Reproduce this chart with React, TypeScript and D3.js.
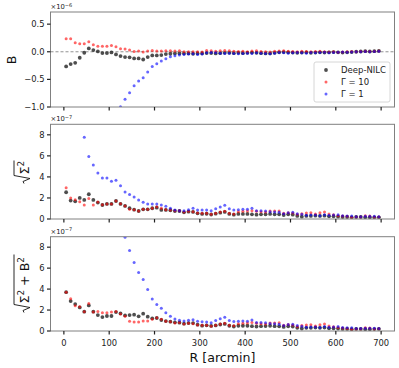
import React from 'react';
import * as d3 from 'd3';

// radial bins (arcmin)
const R = [5, 15, 25, 35, 45, 55, 65, 75, 85, 95, 105, 115, 125, 135, 145, 155, 165, 175, 185, 195,
  205, 215, 225, 235, 245, 255, 265, 275, 285, 295, 305, 315, 325, 335, 345, 355, 365, 375, 385, 395,
  405, 415, 425, 435, 445, 455, 465, 475, 485, 495, 505, 515, 525, 535, 545, 555, 565, 575, 585, 595,
  605, 615, 625, 635, 645, 655, 665, 675, 685, 695];

// B  (x 1e-6)
const bDeep = [-0.265, -0.223, -0.2, -0.108, -0.018, 0.06, 0.03, 0.006, -0.024, -0.024, -0.012, -0.048, -0.078, -0.096, -0.1, -0.12, -0.12, -0.14, -0.096, -0.066,
  -0.066, -0.06, -0.042, -0.036, -0.03, -0.03, -0.03, -0.03, -0.036, -0.03, -0.03, -0.024, -0.024,
  -0.03, -0.025, -0.02, -0.02, -0.025, -0.02, -0.025, -0.02, -0.015, -0.02, -0.025, -0.03, -0.03, -0.02, -0.01, -0.005, -0.01, -0.015, -0.02, -0.015,
  -0.01, -0.02, -0.015, -0.01, -0.015, -0.01, -0.005, -0.01, -0.015, -0.01, -0.005, 0.0, 0.005, 0.01, 0.005, 0.01, 0.015];
const bG10 = [0.235, 0.235, 0.163, 0.145, 0.145, 0.18, 0.127, 0.102, 0.102, 0.102, 0.114, 0.09, 0.054, 0.048, 0.03, 0.006, 0.012, -0.006, 0.012, 0.024,
  0.012, 0.012, 0.018, 0.018, 0.012, 0.018, 0.0, 0.0, 0.0, 0.0, -0.006, 0.024, 0.018,
  0.01, 0.02, 0.025, 0.02, 0.01, 0.005, 0.01, 0.0, 0.015, 0.02, 0.005, 0.0, -0.005, 0.01, 0.015, 0.02, 0.01, 0.005, 0.0, 0.01,
  0.005, 0.0, 0.005, 0.01, 0.0, -0.005, 0.0, -0.01, -0.005, 0.0, 0.005, 0.0, 0.005, 0.01, 0.005, 0.01, 0.015];
const bG1 = [-2.4, -2.2, -2.0, -1.85, -1.7, -1.6, -1.5, -1.4, -1.3, -1.2, -1.12, -1.05, -0.995, -0.86, -0.74, -0.614, -0.53, -0.47, -0.367, -0.265,
  -0.217, -0.169, -0.127, -0.09, -0.072, -0.06, -0.048, -0.042, -0.036, -0.048, -0.042, -0.018, -0.012,
  -0.02, -0.025, -0.03, -0.025, -0.03, -0.035, -0.03, -0.025, -0.03, -0.02, -0.025, -0.03, -0.035, -0.025, -0.015, -0.02, -0.025, -0.02, -0.015, -0.02,
  -0.025, -0.015, -0.02, -0.015, -0.01, -0.02, -0.015, -0.01, -0.005, -0.01, -0.005, 0.0, 0.0, 0.005, 0.0, 0.005, 0.01];

// sqrt(Sigma^2)  (x 1e-7)
const sDeep = [2.54, 1.75, 1.68, 2.0, 1.81, 2.35, 1.81, 1.56, 1.33, 1.43, 1.43, 1.71, 1.43, 1.24, 1.02, 0.89, 0.76, 0.92, 0.92, 1.02,
  1.08, 0.86, 0.86, 0.83, 0.76, 0.76, 0.63, 0.7, 0.67, 0.54, 0.48, 0.5, 0.43,
  0.51, 0.6, 0.67, 0.48, 0.41, 0.48, 0.48, 0.48, 0.44, 0.41, 0.44, 0.44, 0.48, 0.44, 0.44, 0.38, 0.44, 0.41, 0.29, 0.22,
  0.29, 0.29, 0.32, 0.29, 0.32, 0.25, 0.25, 0.22, 0.19, 0.19, 0.16, 0.19, 0.19, 0.16, 0.16, 0.16, 0.16];
const sG10 = [2.98, 2.0, 1.84, 1.65, 1.33, 1.94, 1.33, 1.62, 1.36, 1.43, 1.43, 1.71, 1.46, 1.24, 0.92, 0.89, 0.76, 0.92, 0.92, 1.02,
  1.17, 1.02, 0.89, 0.86, 0.79, 0.79, 0.67, 0.73, 0.7, 0.57, 0.54, 0.54, 0.44,
  0.54, 0.67, 0.73, 0.54, 0.48, 0.7, 0.73, 0.76, 0.79, 0.73, 0.7, 0.67, 0.76, 0.76, 0.76, 0.54, 0.6, 0.57, 0.44, 0.51,
  0.57, 0.6, 0.48, 0.6, 0.67, 0.48, 0.41, 0.32, 0.29, 0.25, 0.16, 0.19, 0.19, 0.32, 0.29, 0.19, 0.19];
const sG1 = [13.0, 11.5, 10.5, 9.6, 7.78, 5.94, 5.14, 4.38, 3.9, 3.9, 3.59, 3.68, 3.17, 2.57, 2.32, 2.1, 1.81, 1.59, 1.43, 1.43,
  1.43, 1.33, 1.2, 1.02, 0.86, 0.79, 0.79, 0.89, 1.02, 0.86, 0.86, 0.86, 0.78,
  0.98, 1.14, 1.3, 0.98, 0.86, 0.89, 0.92, 0.92, 1.02, 0.79, 0.79, 0.76, 0.7, 0.67, 0.63, 0.51, 0.6, 0.63, 0.51, 0.44,
  0.35, 0.38, 0.38, 0.32, 0.41, 0.35, 0.38, 0.41, 0.32, 0.29, 0.29, 0.22, 0.22, 0.25, 0.25, 0.25, 0.22];

// sqrt(Sigma^2 + B^2)  (x 1e-7)
const tDeep = [3.71, 2.86, 2.57, 2.25, 1.84, 2.44, 1.84, 1.52, 1.33, 1.43, 1.43, 1.81, 1.68, 1.49, 1.52, 1.56, 1.4, 1.65, 1.37, 1.21,
  1.24, 1.05, 0.95, 0.89, 0.83, 0.79, 0.7, 0.76, 0.76, 0.6, 0.51, 0.54, 0.48,
  0.53, 0.62, 0.68, 0.5, 0.43, 0.5, 0.5, 0.5, 0.46, 0.43, 0.46, 0.47, 0.5, 0.46, 0.45, 0.39, 0.45, 0.42, 0.3, 0.24,
  0.3, 0.3, 0.33, 0.3, 0.33, 0.26, 0.26, 0.23, 0.2, 0.2, 0.17, 0.2, 0.2, 0.17, 0.17, 0.18, 0.2];
const tG10 = [3.71, 3.08, 2.41, 2.32, 1.84, 2.63, 1.81, 1.87, 1.75, 1.75, 1.81, 1.87, 1.62, 1.4, 0.92, 0.86, 0.86, 0.95, 0.95, 1.11,
  1.27, 1.11, 0.92, 0.89, 0.76, 0.8, 0.67, 0.73, 0.7, 0.57, 0.54, 0.55, 0.46,
  0.55, 0.68, 0.75, 0.56, 0.49, 0.7, 0.73, 0.76, 0.8, 0.75, 0.7, 0.67, 0.76, 0.77, 0.78, 0.56, 0.61, 0.57, 0.44, 0.52,
  0.57, 0.6, 0.48, 0.6, 0.67, 0.48, 0.41, 0.33, 0.29, 0.25, 0.17, 0.19, 0.2, 0.32, 0.29, 0.2, 0.21];
const tG1 = [27, 24, 22, 20, 19, 17.5, 16, 15, 14, 13, 12, 11.1, 10.4, 8.95, 7.68, 6.54, 5.59, 4.92, 3.97, 3.05,
  2.54, 2.16, 1.75, 1.4, 1.14, 1.02, 0.95, 1.02, 1.08, 0.92, 0.89, 0.86, 0.79,
  1.0, 1.16, 1.31, 1.0, 0.9, 0.92, 0.95, 0.94, 1.04, 0.82, 0.81, 0.78, 0.72, 0.69, 0.64, 0.53, 0.61, 0.64, 0.52, 0.45,
  0.36, 0.39, 0.39, 0.33, 0.42, 0.36, 0.39, 0.42, 0.33, 0.3, 0.3, 0.23, 0.23, 0.26, 0.26, 0.26, 0.23];

const xTicks = [0, 100, 200, 300, 400, 500, 600, 700];
const legendLabels = ['Deep-NILC', 'Γ = 10', 'Γ = 1'];

const FONT = 'DejaVu Sans, sans-serif';
const LEFT = 50.5;
const RIGHT = 394.5;

const styles = [
  { fill: '#222', opacity: 0.8, r: 1.9 },
  { fill: 'red', opacity: 0.6, r: 1.5 },
  { fill: 'blue', opacity: 0.6, r: 1.5 },
];

const panels = [
  { id: 'p1', top: 12, bottom: 107, domain: [-1, 0.72], ticks: [-1, -0.5, 0, 0.5], fmt: d3.format('.1f'), exp: '−6', series: [bDeep, bG10, bG1], zero: true },
  { id: 'p2', top: 124.3, bottom: 219, domain: [0, 9], ticks: [0, 2, 4, 6, 8], fmt: d3.format('d'), exp: '−7', series: [sDeep, sG10, sG1], zero: false },
  { id: 'p3', top: 236.7, bottom: 331, domain: [0, 9], ticks: [0, 2, 4, 6, 8], fmt: d3.format('d'), exp: '−7', series: [tDeep, tG10, tG1], zero: false },
];

export default function App() {
  const x = d3.scaleLinear().domain([-29.5, 729.5]).range([LEFT, RIGHT]);

  return (
    <svg width={399} height={368} style={{ position: 'absolute', left: 0, top: 0, background: '#fff' }} fontFamily={FONT}>
      <rect width={399} height={368} fill="#fff" />
      <defs>
        {panels.map(p => (
          <clipPath key={p.id} id={'clip-' + p.id}>
            <rect x={LEFT} y={p.top} width={RIGHT - LEFT} height={p.bottom - p.top} />
          </clipPath>
        ))}
      </defs>
      {panels.map((p, pi) => {
        const y = d3.scaleLinear().domain(p.domain).range([p.bottom, p.top]);
        return (
          <g key={p.id}>
            {p.zero && (
              <line x1={LEFT} x2={RIGHT} y1={y(0)} y2={y(0)} stroke="#777" strokeWidth={0.8} strokeDasharray="3,2" />
            )}
            <g clipPath={`url(#clip-${p.id})`}>
              {p.series.map((vals, si) => (
                <g key={si} fill={styles[si].fill} fillOpacity={styles[si].opacity}>
                  {vals.map((v, i) => (
                    <circle key={i} cx={x(R[i])} cy={y(v)} r={styles[si].r} />
                  ))}
                </g>
              ))}
            </g>
            <rect x={LEFT} y={p.top} width={RIGHT - LEFT} height={p.bottom - p.top} fill="none" stroke="#808080" strokeWidth={1} />
            {p.ticks.map(t => (
              <g key={t}>
                <line x1={LEFT - 3.5} x2={LEFT} y1={y(t)} y2={y(t)} stroke="#222" strokeWidth={1.2} />
                <text x={LEFT - 6} y={y(t)} dy="0.35em" textAnchor="end" fontSize={8.4} fill="#222">{p.fmt(t)}</text>
              </g>
            ))}
            {xTicks.map(t => (
              <g key={t}>
                <line x1={x(t)} x2={x(t)} y1={p.bottom} y2={p.bottom + 3.5} stroke="#222" strokeWidth={1.2} />
                {pi === 2 && (
                  <text x={x(t)} y={p.bottom + 15} textAnchor="middle" fontSize={8.4} fill="#222">{t}</text>
                )}
              </g>
            ))}
            <text x={LEFT} y={p.top - 3} fontSize={6.8} fill="#222">
              ×10<tspan dy={-2.5} fontSize={5}>{p.exp}</tspan>
            </text>
          </g>
        );
      })}

      {/* y labels */}
      <text transform="translate(15.5,60) rotate(-90)" textAnchor="middle" fontSize={12.6} fill="#111">B</text>

      <g transform="translate(29,170.5) rotate(-90)" fill="#111">
        <path d="M-13,-5 L-11,-6 L-8,1 L-5,-15 L10,-15" fill="none" stroke="#111" strokeWidth={0.9} />
        <text x={-4} y={0} fontSize={12.6}>Σ<tspan dy={-5} fontSize={8.8}>2</tspan></text>
      </g>

      <g transform="translate(29,283.5) rotate(-90)" fill="#111">
        <path d="M-29,-5 L-27,-6 L-24,1 L-21,-15 L29,-15" fill="none" stroke="#111" strokeWidth={0.9} />
        <text x={-20} y={0} fontSize={12.6}>
          Σ<tspan dy={-5} fontSize={8.8}>2</tspan>
          <tspan dy={5}> + B</tspan>
          <tspan dy={-5} fontSize={8.8}>2</tspan>
        </text>
      </g>

      <text x={222.5} y={362} textAnchor="middle" fontSize={12.6} fill="#111">R [arcmin]</text>

      {/* legend */}
      <g>
        <rect x={314} y={62} width={76} height={40} rx={2} fill="#fff" fillOpacity={0.8} stroke="#ccc" strokeWidth={0.8} />
        {legendLabels.map((lab, i) => (
          <g key={lab} transform={`translate(0,${70 + i * 12})`}>
            <circle cx={326} cy={0} r={styles[i].r} fill={styles[i].fill} fillOpacity={styles[i].opacity} />
            <text x={341} y={0} dy="0.35em" fontSize={8.5} fill="#222">{lab}</text>
          </g>
        ))}
      </g>
    </svg>
  );
}
